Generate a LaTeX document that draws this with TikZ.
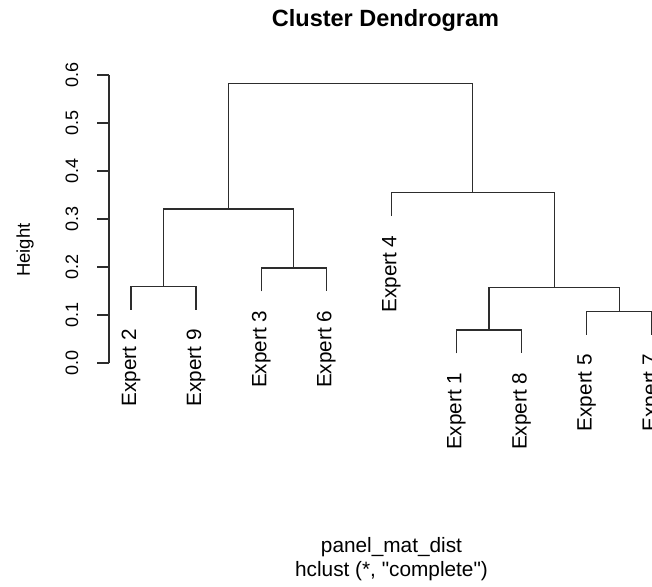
\documentclass[tikz,border=0pt]{standalone}
\usepackage{fontspec}
\usepackage{tikz}
\usetikzlibrary{positioning}
\newfontfamily\rfont{Liberation Sans}
\definecolor{cLine}{RGB}{45,45,45}
\tikzset{
	branch/.style  ={draw=cLine, line width=1.3bp},
	axisline/.style={draw=cLine, line width=1.2bp},
	leaflbl/.style ={rotate=90, anchor=east, inner sep=0pt, font=\rfont\fontsize{20.7bp}{24bp}\selectfont},
	ticklbl/.style ={rotate=90, inner sep=0pt, font=\rfont\fontsize{18bp}{21bp}\selectfont},
	ylbl/.style    ={rotate=90, inner sep=0pt, font=\rfont\fontsize{18.5bp}{21bp}\selectfont},
	mainlbl/.style ={anchor=base, inner sep=0pt, font=\rfont\bfseries\fontsize{23.5bp}{27bp}\selectfont},
	sublbl/.style  ={anchor=base, inner sep=0pt, font=\rfont\fontsize{20.8bp}{24bp}\selectfont},
}

\begin{document}
\begin{tikzpicture}[x=1bp, y=480bp]
	\useasboundingbox (0,-0.4646) rectangle (652,0.75625);
	\clip (0,-0.4646) rectangle (652,0.75625);
	% leaves and their labels
	\foreach \n/\x/\h in {2/131/0.111, 9/196.1/0.111, 3/261.2/0.149, 6/326.3/0.149, 4/391.4/0.306,
		1/456.5/0.020, 8/521.6/0.020, 5/586.7/0.059, 7/651.8/0.059} {
		\coordinate (l\n) at (\x,\h);
		\node[leaflbl] (t\n) at (\x,\h-0.04) {Expert \n};
	}
	% merge points
	\coordinate (m29) at (163.55,0.160);
	\coordinate (m36) at (293.75,0.198);
	\coordinate (mA) at (228.65,0.321);
	\coordinate (m18) at (489.05,0.069);
	\coordinate (m57) at (619.25,0.108);
	\coordinate (mB) at (554.15,0.158);
	\coordinate (mC) at (472.775,0.355);
	\coordinate (root) at (350.7,0.583);
	\draw[branch] (l2) |- (m29) -| (l9);
	\draw[branch] (l3) |- (m36) -| (l6);
	\draw[branch] (m29) |- (mA) -| (m36);
	\draw[branch] (l1) |- (m18) -| (l8);
	\draw[branch] (l5) |- (m57) -| (l7);
	\draw[branch] (m18) |- (mB) -| (m57);
	\draw[branch] (l4) |- (mC) -| (mB);
	\draw[branch] (mA) |- (root) -| (mC);
	% axis
	\coordinate (a0) at (109,0);
	\coordinate (a6) at (109,0.6);
	\draw[axisline] (a0) -- (a6);
	\foreach \t in {0.0,0.1,0.2,0.3,0.4,0.5,0.6} {
		\draw[axisline] (109,\t) -- (97,\t);
		\node[ticklbl] (y\t) at (72,\t) {\t};
	}
	\node[ylbl] (ylab) at (25,0.235) {Height};
	\node[mainlbl] (title) at (385.5,0.700) {Cluster Dendrogram};
	\node[sublbl] (sub1) at (391.5,-0.39375) {panel\_mat\_dist};
	\node[sublbl] (sub2) at (391.5,-0.4458) {hclust (*, "complete")};
\end{tikzpicture}
\end{document}
